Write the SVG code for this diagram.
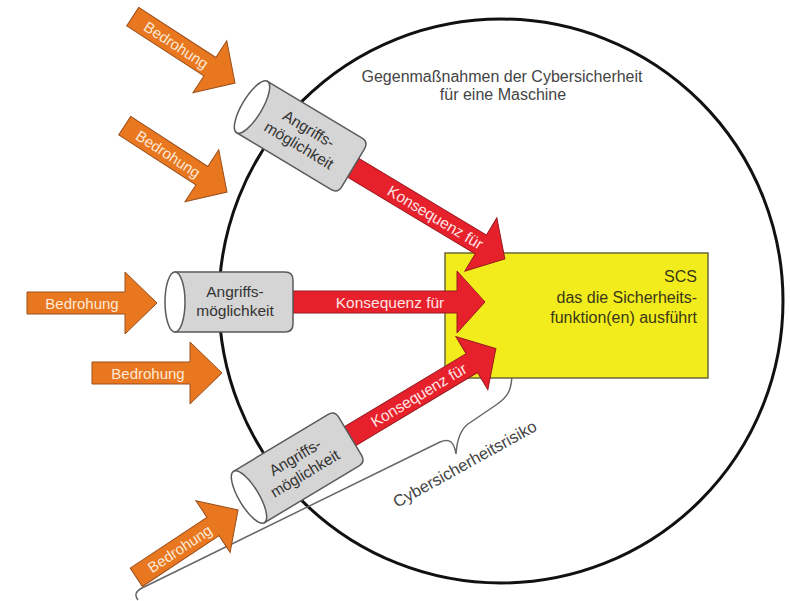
<svg xmlns="http://www.w3.org/2000/svg" xmlns:xlink="http://www.w3.org/1999/xlink" width="790" height="601" viewBox="0 0 790 601">
<style>
text{font-family:"Liberation Sans",Arial,sans-serif}
.ring{fill:none;stroke:#111;stroke-width:3}
.title{font-size:16px;fill:#444;text-anchor:middle}
.scsbox{fill:#f2ec1c;stroke:#6b6839;stroke-width:1.5}
.scs{font-size:16px;fill:#3a3718;text-anchor:end}
.brace{fill:none;stroke:#666;stroke-width:1.5}
.risk{font-size:16.5px;fill:#444}
.thr{fill:#e8771f;stroke:#9a4f1c;stroke-width:1}
.thrt{font-size:15px;fill:#fde9d6;text-anchor:middle}
.con{fill:#e6212b;stroke:#9b1a1f;stroke-width:1}
.cont{font-size:15.5px;fill:#ffe4e4;text-anchor:middle}
.cylb{fill:#d5d5d5;stroke:#5a5a5a;stroke-width:1.5}
.cyle{fill:#fff;stroke:#5a5a5a;stroke-width:1.5}
.cylt{font-size:15.5px;fill:#333;text-anchor:middle}
</style>
<defs>
<path id="thrD" d="M0,-11 H92 V-31 L122,0 L92,31 V11 H0 Z"/>
<path id="thrH" d="M0,-11 H98 V-31 L130,0 L98,31 V11 H0 Z"/>
<g id="cyl">
<path d="M0,-30 H110 Q118,-30 118,-22 V22 Q118,30 110,30 H0 Z" class="cylb"/>
<ellipse cx="0" cy="0" rx="10" ry="30" class="cyle"/>
</g>
</defs>

<g id="machine">
<circle cx="501" cy="301" r="282" class="ring"/>
<text class="title" x="502" y="82">Gegenmaßnahmen der Cybersicherheit</text>
<text class="title" x="503" y="100">für eine Maschine</text>
</g>

<g id="risk">
<path class="brace" d="M512,372 C512,390 508,397 496,405 L468,424 C460,430 457,440 456,454 C454,442 450,438 440,442 L142,588 C136,591 134,595 138,600"/>
<text class="risk" transform="translate(397,508) rotate(-29)">Cybersicherheitsrisiko</text>
</g>

<g id="scs">
<rect x="445" y="253" width="263" height="125" class="scsbox"/>
<text class="scs" x="697" y="282">SCS</text>
<text class="scs" x="697" y="303">das die Sicherheits-</text>
<text class="scs" x="697" y="323">funktion(en) ausführt</text>
</g>

<g id="connectors">
<g transform="translate(132.7,16.6) rotate(33)"><use xlink:href="#thrD" class="thr"/><text class="thrt" x="52" y="5.5">Bedrohung</text></g>
<g transform="translate(124.7,125.6) rotate(33)"><use xlink:href="#thrD" class="thr"/><text class="thrt" x="52" y="5.5">Bedrohung</text></g>
<g transform="translate(27,303)"><use xlink:href="#thrH" class="thr"/><text class="thrt" x="55" y="5.5">Bedrohung</text></g>
<g transform="translate(92,373)"><use xlink:href="#thrH" class="thr"/><text class="thrt" x="56" y="5.5">Bedrohung</text></g>
<g transform="translate(136.3,577.3) rotate(-33.5)"><use xlink:href="#thrD" class="thr"/><text class="thrt" x="52" y="5.5">Bedrohung</text></g>

<g transform="translate(252,107) rotate(31)"><path class="con" d="M118,-11 H267 V-31 L295,0 L267,31 V11 H118 Z"/><text class="cont" x="214" y="5.5">Konsequenz für</text></g>
<g transform="translate(293,302)"><path class="con" d="M0,-11 H164 V-31 L192,0 L164,31 V11 H0 Z"/><text class="cont" x="97" y="5.5">Konsequenz für</text></g>
<g transform="translate(249,497) rotate(-31)"><path class="con" d="M118,-11 H260 V-31 L288,0 L260,31 V11 H118 Z"/><text class="cont" x="198" y="5.5">Konsequenz für</text></g>
</g>

<g id="attack-top" transform="translate(252,107) rotate(31)">
<use xlink:href="#cyl"/>
<text class="cylt" x="60" y="-5">Angriffs-</text>
<text class="cylt" x="60" y="14">möglichkeit</text>
</g>
<g id="attack-mid" transform="translate(175,302)">
<use xlink:href="#cyl"/>
<text class="cylt" x="60" y="-5">Angriffs-</text>
<text class="cylt" x="60" y="14">möglichkeit</text>
</g>
<g id="attack-bottom" transform="translate(249,497) rotate(-31)">
<use xlink:href="#cyl"/>
<text class="cylt" x="60" y="-5">Angriffs-</text>
<text class="cylt" x="60" y="14">möglichkeit</text>
</g>
</svg>
